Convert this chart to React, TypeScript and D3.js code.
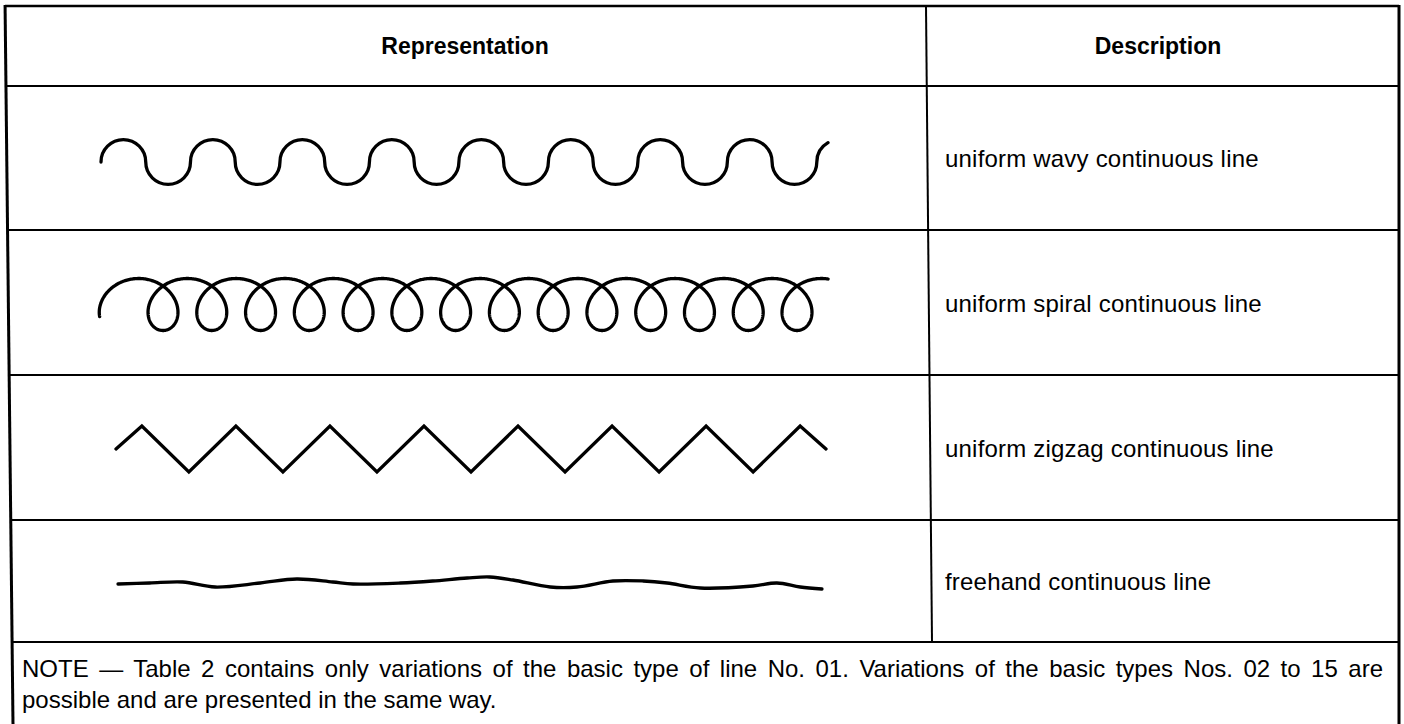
import React, { useLayoutEffect, useRef } from "react";
import * as d3 from "d3";

const headers = ["Representation", "Description"];
const descriptions = [
  "uniform wavy continuous line",
  "uniform spiral continuous line",
  "uniform zigzag continuous line",
  "freehand continuous line",
];
const noteLines = [
  "NOTE — Table 2 contains only variations of the basic type of line No. 01. Variations of the basic types Nos. 02 to 15 are",
  "possible and are presented in the same way.",
];

// wavy line: half waves (8 crests, 8 troughs, short tail)
const waveHalfWaves = 16.25;
// spiral line: number of loops
const spiralLoops = 14;
// zigzag: step along the line and level (1 = top, -1 = bottom)
const zigzagSteps = [0, 0.55, 1.55, 2.55, 3.55, 4.55, 5.55, 6.55, 7.55, 8.55, 9.55, 10.55, 11.55, 12.55, 13.55, 14.55, 15.1];
const zigzagLevels = [0, 1, -1, 1, -1, 1, -1, 1, -1, 1, -1, 1, -1, 1, -1, 1, 0];
// freehand: position along the line (%) and deviation from baseline
const freehandX = [0, 4.5, 9.2, 13.8, 20.2, 25.4, 30.5, 33.4, 40.1, 44.7, 49.6, 52.8, 56.1, 61.4, 65.2, 70.3, 74.6, 78.0, 82.7, 90.2, 93.6, 96.9, 100];
const freehandY = [-1, 0, 1, -4, 0, 4, 1, -1, 0, 2, 5, 6, 3, -4, -4, 2, 2, 0, -5, -3, 0, -4, -6];

const W = 1404;
const H = 724;
const rowLines = [6, 86, 230, 375, 520, 642];
const font = "'Liberation Sans', Arial, Helvetica, sans-serif";

export default function App() {
  const ref = useRef<SVGSVGElement>(null);

  useLayoutEffect(() => {
    const svg = d3.select(ref.current);
    svg.selectAll("*").remove();

    const leftAt = (y: number) => 5 + (y / H) * 8;
    const right = 1399;
    const g = svg.append("g").attr("stroke", "#000").attr("fill", "none");

    // table rules
    rowLines.forEach((y, i) => {
      g.append("line")
        .attr("x1", leftAt(y))
        .attr("x2", right)
        .attr("y1", y)
        .attr("y2", y)
        .attr("stroke-width", i === 0 ? 2.5 : 2);
    });
    g.append("line").attr("x1", leftAt(rowLines[0])).attr("y1", rowLines[0] - 1).attr("x2", leftAt(H)).attr("y2", H).attr("stroke-width", 3);
    g.append("line").attr("x1", right).attr("y1", rowLines[0] - 1).attr("x2", right).attr("y2", H).attr("stroke-width", 3);
    g.append("line").attr("x1", 926).attr("y1", rowLines[0]).attr("x2", 932).attr("y2", rowLines[5]).attr("stroke-width", 2);

    // headers
    const headerY = (rowLines[0] + rowLines[1]) / 2 + 8;
    svg.selectAll("text.header")
      .data(headers)
      .enter()
      .append("text")
      .attr("class", "header")
      .attr("x", (d, i) => (i === 0 ? 465 : 1158))
      .attr("y", headerY)
      .attr("text-anchor", "middle")
      .attr("font-family", font)
      .attr("font-weight", "bold")
      .attr("font-size", 23)
      .text(d => d);

    const mid = (i: number) => (rowLines[i + 1] + rowLines[i + 2]) / 2;

    // descriptions
    svg.selectAll("text.desc")
      .data(descriptions)
      .enter()
      .append("text")
      .attr("class", "desc")
      .attr("x", 945)
      .attr("y", (d, i) => mid(i) + 9)
      .attr("font-family", font)
      .attr("font-size", 24)
      .attr("letter-spacing", 0.2)
      .text(d => d);

    const shapes = svg.append("g")
      .attr("stroke", "#000")
      .attr("fill", "none")
      .attr("stroke-width", 3.3)
      .attr("stroke-linecap", "round")
      .attr("stroke-linejoin", "miter");

    // wavy line
    {
      const x = d3.scaleLinear().domain([0, waveHalfWaves]).range([101, 828]);
      const r = (x(1) - x(0)) / 2;
      const yc = mid(0) + 4;
      const p = d3.path();
      p.moveTo(x(0), yc);
      const full = Math.floor(waveHalfWaves);
      for (let h = 0; h < full; h++) {
        const cx = x(h + 0.5);
        if (h % 2 === 0) p.arc(cx, yc, r, Math.PI, 2 * Math.PI, false);
        else p.arc(cx, yc, r, Math.PI, 0, true);
      }
      const frac = waveHalfWaves - full;
      const a = 2 * Math.PI - Math.acos(2 * frac - 1);
      p.arc(x(full + 0.5), yc, r, Math.PI, a, false);
      shapes.append("path").attr("d", p.toString());
    }

    // spiral line (looped trochoid)
    {
      const x = d3.scaleLinear().domain([0, spiralLoops - 1]).range([163, 797]);
      const a = (x(1) - x(0)) / (2 * Math.PI);
      const b = 26;
      const yc = mid(1) + 2;
      const t0 = -5.2;
      const t1 = 2 * Math.PI * (spiralLoops - 1) + Math.PI + 0.2;
      const ts = d3.range(t0, t1, 0.03).concat([t1]);
      const pts = ts.map(t => [x(0) + a * t - b * Math.sin(t), yc + b * Math.cos(t)] as [number, number]);
      shapes.append("path").attr("d", d3.line()(pts));
    }

    // zigzag line
    {
      const x = d3.scaleLinear().domain([0, zigzagSteps[zigzagSteps.length - 1]]).range([116, 826]);
      const yc = mid(2) + 1.5;
      const y = d3.scaleLinear().domain([-1, 1]).range([yc + 23, yc - 23]);
      const line = d3.line<number>()
        .x((d, i) => x(zigzagSteps[i]))
        .y(d => y(d));
      shapes.append("path").attr("d", line(zigzagLevels));
    }

    // freehand line
    {
      const x = d3.scaleLinear().domain([0, 100]).range([118, 822]);
      const yc = mid(3) + 2;
      const y = d3.scaleLinear().domain([-6, 6]).range([yc + 6, yc - 6]);
      const line = d3.line<number>()
        .x((d, i) => x(freehandX[i]))
        .y(d => y(d))
        .curve(d3.curveCatmullRom);
      shapes.append("path").attr("d", line(freehandY));
    }

    // note, first line justified
    const note = svg.selectAll("text.note")
      .data(noteLines)
      .enter()
      .append("text")
      .attr("class", "note")
      .attr("x", 22)
      .attr("y", (d, i) => 677 + i * 31)
      .attr("font-family", font)
      .attr("font-size", 24)
      .text(d => d);
    const first = note.nodes()[0] as SVGTextElement;
    const natural = first.getComputedTextLength();
    const spaces = noteLines[0].split(" ").length - 1;
    d3.select(first).attr("word-spacing", (1383 - 22 - natural) / spaces);
  }, []);

  return (
    <svg
      ref={ref}
      width={W}
      height={H}
      style={{ position: "absolute", left: 0, top: 0, background: "#fff" }}
    ></svg>
  );
}
